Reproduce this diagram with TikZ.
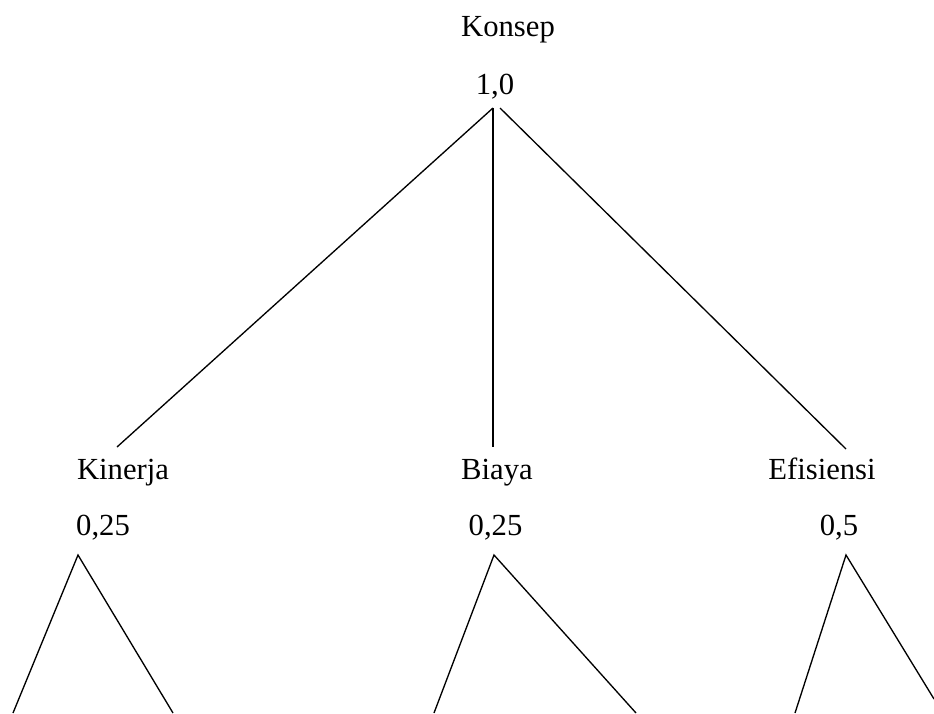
\documentclass[tikz,border=0pt]{standalone}
\usepackage{fontspec}
\setmainfont{Liberation Serif}
\begin{document}
\begin{tikzpicture}
            [x=0.75pt, y=-0.75pt,
        lbl/.style={anchor=base, inner sep=0pt, font=\fontsize{23}{28}\selectfont},
        edge/.style={line width=1pt}]
            \useasboundingbox (0,0) rectangle (934,713);
            \node[lbl] (K) at (508,37) {Konsep};
            \node[lbl] (K0) at (495,95) {1,0};
            \node[lbl] (A) at (123,479) {Kinerja};
            \node[lbl] (A0) at (103,535) {0,25};
            \node[lbl] (B) at (497,479) {Biaya};
            \node[lbl] (B0) at (495.5,535) {0,25};
            \node[lbl] (C) at (822,479) {Efisiensi};
            \node[lbl] (C0) at (839,535) {0,5};

            % joints under the weights
            \coordinate (Ktop) at (493,108);
            \coordinate (Atop) at (78,555);
            \coordinate (Btop) at (494,555);
            \coordinate (Ctop) at (846,555);
            % ends above the criteria
            \coordinate (Aend) at (117,447);
            \coordinate (Bend) at (493,447);
            \coordinate (Cend) at (846,449);
            % loose ends at the bottom
            \coordinate (A1) at (13,713);
            \coordinate (A2) at (173,713);
            \coordinate (B1) at (434,713);
            \coordinate (B2) at (636,713);
            \coordinate (C1) at (795,713);
            \coordinate (C2) at (934,699);

            \draw[edge] (Ktop) -- (Aend);
            \draw[edge] (Ktop) -- (Bend);
            \draw[edge] ([xshift=5.25pt]Ktop) -- (Cend);

            \draw[edge] (A1) -- (Atop) -- (A2);
            \draw[edge] (B1) -- (Btop) -- (B2);
            \draw[edge] (C1) -- (Ctop) -- (C2);
        \end{tikzpicture}
\end{document}
